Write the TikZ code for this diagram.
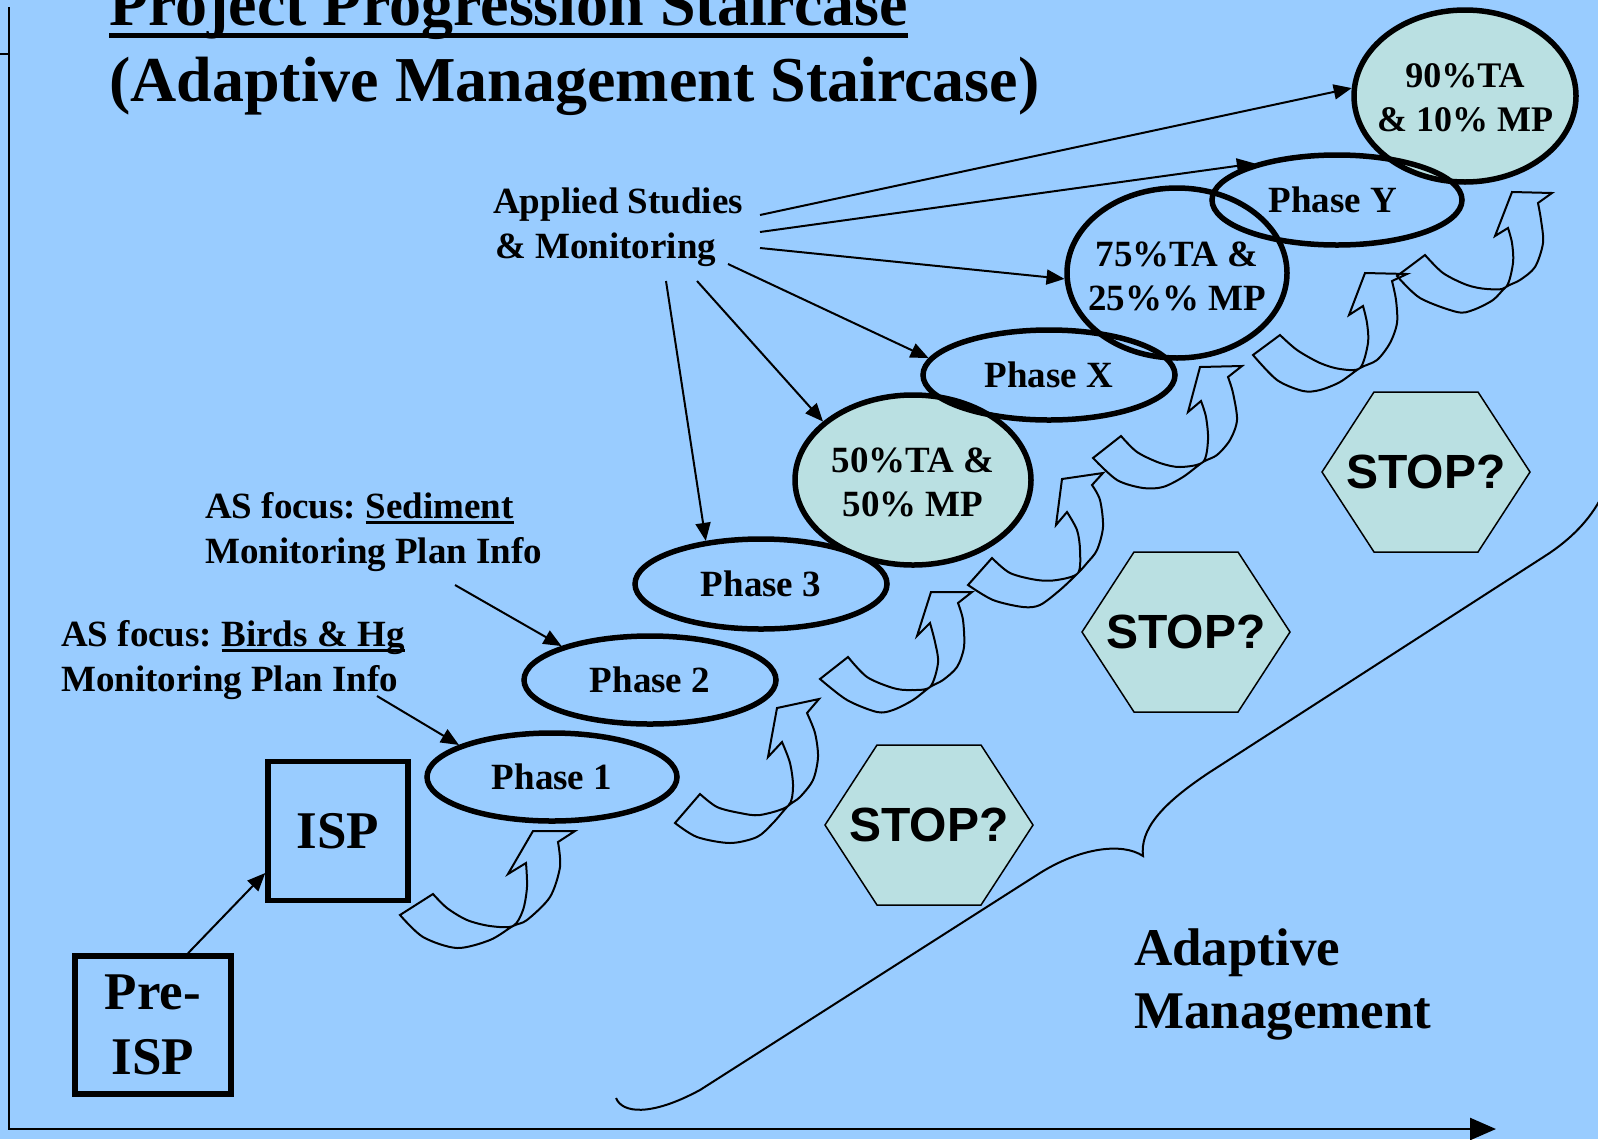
\documentclass[tikz,border=0pt]{standalone}
\usepackage{fontspec}
\setmainfont{Liberation Serif}
\setsansfont{Liberation Sans}
\usetikzlibrary{arrows.meta,shapes.geometric}
\definecolor{bgblue}{RGB}{153,204,255}
\definecolor{tealfill}{RGB}{186,224,226}
\newsavebox\ulbox
\newcommand\myul[3]{\sbox\ulbox{#1}\rlap{\rule[-#2]{\wd\ulbox}{#3}}\usebox\ulbox}
\frenchspacing
\begin{document}
\begin{tikzpicture}[x=1bp,y=-1bp,
  lbl/.style={font=\fontsize{37bp}{44bp}\selectfont\bfseries, inner sep=0pt},
  biglbl/.style={font=\fontsize{53bp}{64bp}\selectfont\bfseries, inner sep=0pt},
  titlelbl/.style={font=\fontsize{64bp}{77bp}\selectfont\bfseries, inner sep=0pt},
  stoplbl/.style={font=\fontsize{48bp}{56bp}\selectfont\sffamily\bfseries, inner sep=0pt},
  ell/.style={ellipse, draw, line width=5.5bp, inner sep=0pt},
  ellfill/.style={ell, fill=tealfill},
  boxnode/.style={draw, line width=5.5bp, inner sep=0pt, align=center,
     font=\fontsize{53bp}{65bp}\selectfont\bfseries},
  hexshape/.style={draw, line width=1.5bp, fill=tealfill, line join=miter},
  carrow/.style={draw, line width=2bp, line join=miter},
  conn/.style={line width=2bp, -{Triangle[length=18bp,width=15bp]}},
  axisline/.style={line width=2.5bp},
  bracel/.style={line width=2bp}
]
\useasboundingbox (0,0) rectangle (1598,1139);
\clip (0,0) rectangle (1598,1139);
\fill[bgblue] (0,0) rectangle (1598,1139);

% axes
\draw[axisline] (0,54) -- (9,54);
\draw[axisline, -{Triangle[length=26bp,width=22bp]}] (9,7) -- (9,1129) -- (1496,1129);

% brace
\draw[bracel] (616,1098) .. controls (622,1113) and (650,1117) .. (700,1090)
  -- (1040,873) .. controls (1080,848) and (1122,842) .. (1143,856)
  .. controls (1140,830) and (1160,805) .. (1210,772)
  -- (1545,556) .. controls (1570,540) and (1590,520) .. (1602,496);

% filled ellipses
\node[ellfill, minimum width=236bp, minimum height=170bp] (e50) at (913,480) {};
\node[ellfill, minimum width=222bp, minimum height=172bp] (e90) at (1465,96) {};
% outline ellipses
\node[ell, minimum width=220bp, minimum height=170bp] (e75) at (1177,273) {};
\node[ell, minimum width=250bp, minimum height=88bp] (p1) at (552,777) {};
\node[ell, minimum width=252bp, minimum height=88bp] (p2) at (650,680) {};
\node[ell, minimum width=252bp, minimum height=90bp] (p3) at (761,584) {};
\node[ell, minimum width=252bp, minimum height=90bp] (px) at (1049,375) {};
\node[ell, minimum width=250bp, minimum height=90bp] (py) at (1337,200) {};

% ellipse texts
\node[lbl] (p1t) at (p1) {Phase 1};
\node[lbl] (p2t) at (p2) {Phase 2};
\node[lbl] (p3t) at (p3) {Phase 3};
\node[lbl] (pxt) at (px) {Phase X};
\node[lbl] (pyt) at (1333,200) {Phase Y};
\node[lbl, align=center] (e50t) at (913,482) {50\%TA \&\\50\% MP};
\node[lbl, align=center] (e75t) at (1177,276) {75\%TA \&\\25\%\% MP};
\node[font=\fontsize{36bp}{44bp}\selectfont\bfseries, inner sep=0pt, align=center] (e90t) at (1465,98) {90\%TA\\\& 10\% MP};

% boxes
\node[boxnode, minimum width=156bp, minimum height=138bp] (pre) at (153,1025) {Pre-\\ISP};
\node[boxnode, minimum width=140bp, minimum height=139bp] (isp) at (338,831) {ISP};

% STOP hexagons
\draw[hexshape, shift={(929,825)}] (-104,0) -- (-52,-80) -- (52,-80) -- (104,0) -- (52,80) -- (-52,80) -- cycle;
\draw[hexshape, shift={(1186,632)}] (-104,0) -- (-52,-80) -- (52,-80) -- (104,0) -- (52,80) -- (-52,80) -- cycle;
\draw[hexshape, shift={(1426,472)}] (-104,0) -- (-52,-80) -- (52,-80) -- (104,0) -- (52,80) -- (-52,80) -- cycle;
\node[stoplbl] (stop1) at (929,825) {STOP?};
\node[stoplbl] (stop2) at (1186,632) {STOP?};
\node[stoplbl] (stop3) at (1426,472) {STOP?};

% curved block arrows
\draw[carrow] (400,915) -- (433,894) -- plot[smooth] coordinates {(433,894) (447,908) (467,920) (490,926) (513,926) (523,910) (527,887) (526,863)}
  -- (508,874) -- (533,831) -- (575,831) -- (558,842)
  -- plot[smooth] coordinates {(558,842) (560,867) (550,897) (527,920) (513,926) (490,940) (457,948) (423,937) (400,915)} -- cycle;
\draw[carrow] (675,823) -- (700,794) -- plot[smooth] coordinates {(700,794) (717,807) (740,813) (760,815) (788,806) (793,787) (790,763) (782,742)}
  -- (768,757) -- (777,708) -- (819,699) -- (807,713)
  -- plot[smooth] coordinates {(807,713) (815,733) (818,757) (813,780) (800,797) (788,806) (773,823) (757,837) (730,843) (697,837) (675,823)} -- cycle;
\draw[carrow] (820,679) -- (848,657) -- plot[smooth] coordinates {(848,657) (867,677) (893,688) (910,690) (930,687) (938,663) (935,642) (930,623)}
  -- (917,636) -- (931,592) -- (972,592) -- (958,603)
  -- plot[smooth] coordinates {(958,603) (963,620) (964,647) (957,667) (943,680) (930,687) (913,700) (893,710) (877,712) (847,700) (820,679)} -- cycle;
\draw[carrow] (968,585) -- (992,558) -- plot[smooth] coordinates {(992,558) (1010,573) (1037,580) (1057,580) (1078,573) (1080,550) (1077,530) (1067,512)}
  -- (1056,525) -- (1062,479) -- (1103,473) -- (1092,485)
  -- plot[smooth] coordinates {(1092,485) (1100,500) (1103,527) (1097,550) (1087,563) (1078,573) (1060,590) (1040,605) (1023,607) (993,600) (968,585)} -- cycle;
\draw[carrow] (1093,458) -- (1121,436) -- plot[smooth] coordinates {(1121,436) (1137,452) (1160,463) (1180,467) (1203,462) (1208,440) (1206,417) (1201,401)}
  -- (1188,412) -- (1200,367) -- (1242,366) -- (1228,377)
  -- plot[smooth] coordinates {(1228,377) (1233,393) (1237,420) (1230,440) (1217,455) (1203,462) (1183,477) (1163,487) (1143,488) (1117,480) (1093,458)} -- cycle;
\draw[carrow] (1253,355) -- (1280,335) -- plot[smooth] coordinates {(1280,335) (1297,350) (1320,363) (1340,369) (1360,368) (1368,343) (1367,323) (1363,306)}
  -- (1349,315) -- (1365,273) -- (1407,274) -- (1392,281)
  -- plot[smooth] coordinates {(1392,281) (1396,300) (1397,323) (1390,343) (1377,360) (1360,368) (1340,382) (1320,390) (1303,391) (1277,380) (1253,355)} -- cycle;
\draw[carrow] (1397,276) -- (1425,255) -- plot[smooth] coordinates {(1425,255) (1443,273) (1467,285) (1487,289) (1506,287) (1513,263) (1512,243) (1508,228)}
  -- (1495,236) -- (1512,192) -- (1552,193) -- (1538,203)
  -- plot[smooth] coordinates {(1538,203) (1541,220) (1543,243) (1535,267) (1520,280) (1506,287) (1493,300) (1473,310) (1457,312) (1420,298) (1397,276)} -- cycle;

% labels
\node[titlelbl, anchor=base west] (title1) at (109,25) {\myul{Project Progression Staircase}{13bp}{5.5bp}};
\node[titlelbl, anchor=base west] (title2) at (109,101) {(Adaptive Management Staircase)};
\node[lbl, anchor=base west] (app1) at (493,213) {Applied Studies};
\node[lbl, anchor=base west] (app2) at (495,258) {\& Monitoring};
\node[lbl, anchor=base west] (sed1) at (205,518) {AS focus: \myul{Sediment}{5.5bp}{2.5bp}};
\node[lbl, anchor=base west] (sed2) at (205,563) {Monitoring Plan Info};
\node[lbl, anchor=base west] (bird1) at (61,646) {AS focus: \myul{Birds \& Hg}{5.5bp}{2.5bp}};
\node[lbl, anchor=base west] (bird2) at (61,691) {Monitoring Plan Info};
\node[biglbl, anchor=base west] (am1) at (1134,965) {Adaptive};
\node[biglbl, anchor=base west] (am2) at (1134,1028) {Management};

% connector start points
\coordinate (as1) at (760,215);
\coordinate (as2) at (760,232);
\coordinate (as3) at (760,248);
\coordinate (as4) at (728,264);
\coordinate (as5) at (697,281);
\coordinate (as6) at (666,281);
\coordinate (sedS) at (455,585);
\coordinate (birdS) at (377,696);

% connectors
\draw[conn] (pre.64) -- (isp.210);
\draw[conn] (birdS) -- (p1.161);
\draw[conn] (sedS) -- (p2.159);
\draw[conn] (as6) -- (p3.142);
\draw[conn] (as5) -- (e50.147);
\draw[conn] (as4) -- (px.172);
\draw[conn] (as3) -- (e75.183);
\draw[conn] (as2) -- (py.156);
\draw[conn] (as1) -- (e90.176);
\end{tikzpicture}
\end{document}
